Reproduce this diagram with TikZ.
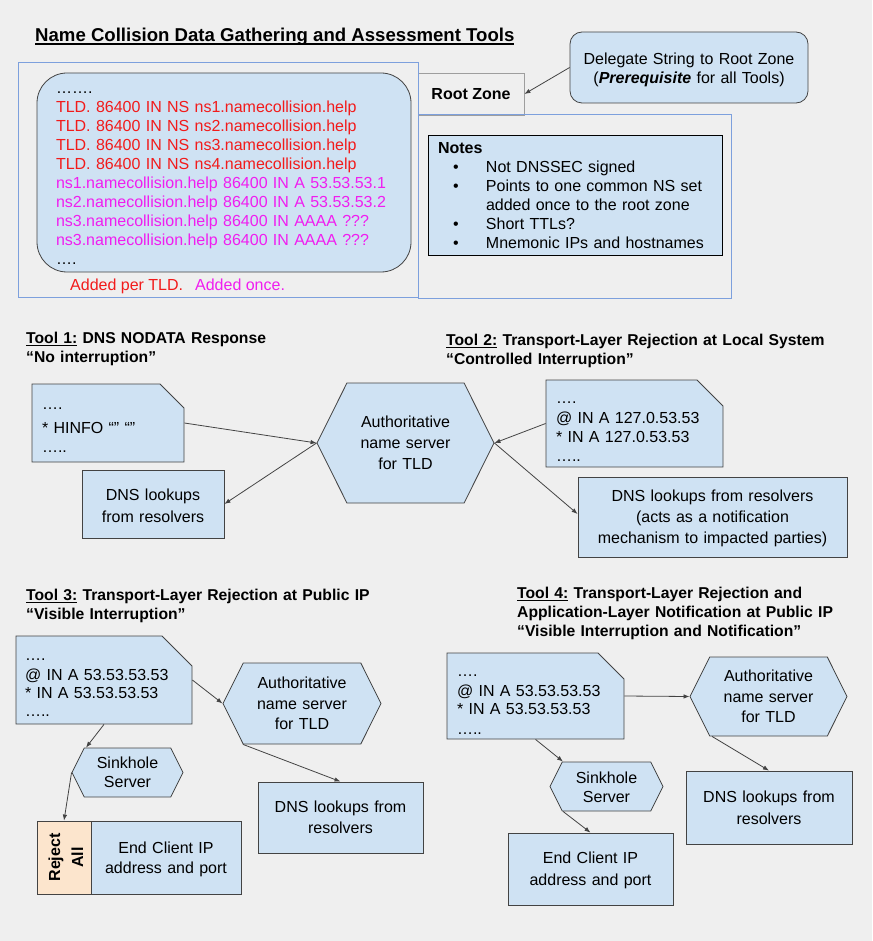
\documentclass[tikz,border=0pt]{standalone}
\usepackage{fontspec}
\setmainfont{Liberation Sans}
\usetikzlibrary{arrows.meta, shapes.misc, shapes.symbols}

\definecolor{canvas}{HTML}{EFEFEF}
\definecolor{boxblue}{HTML}{CFE2F3}
\definecolor{peach}{HTML}{FCE5CD}
\definecolor{edge}{HTML}{434343}
\definecolor{frameblue}{HTML}{7DA0DD}
\definecolor{rootgray}{HTML}{9E9E9E}
\definecolor{txtred}{HTML}{F21B1B}
\definecolor{txtmag}{HTML}{F01EF0}

\newcommand{\bodyfont}{\fontsize{16}{19}\selectfont}
\newcommand{\headfont}{\fontsize{15.7}{19}\selectfont\bfseries}
\newcommand{\titlefont}{\fontsize{18.6}{22}\selectfont\bfseries}
\newcommand{\notebullet}{\hspace*{15.2pt}\makebox[32.8pt][l]{•}}
% underline: depth, thickness, text
\newsavebox{\ulinebox}
\newcommand{\undl}[3]{\sbox{\ulinebox}{#3}\rlap{\rule[-#1]{\wd\ulinebox}{#2}}\usebox{\ulinebox}}

\begin{document}
\begin{tikzpicture}[x=1pt, y=-1pt,
    every node/.style={font=\bodyfont, inner sep=0pt},
    card/.style={draw=edge, fill=boxblue, line width=0.8pt},
    notecard/.style={card, chamfered rectangle, chamfered rectangle corners=north east, align=left},
    hexcard/.style={card, signal, signal to=west and east, signal pointer angle=127, align=center},
    boxcard/.style={card, rectangle, align=center},
    headline/.style={anchor=base west, align=left, font=\headfont},
    link/.style={draw=edge, line width=0.8pt, -{Latex[length=6pt, width=4.5pt]}}]

    % canvas
    \fill[canvas] (0,0) rectangle (872,941);
    \useasboundingbox (0,0) rectangle (872,941);

    % title
    \node[anchor=base west, font=\titlefont] (title) at (35,41.7)
        {\undl{3pt}{1.3pt}{Name Collision Data Gathering and Assessment Tools}};

    % root zone part
    \node[draw=rootgray, line width=0.8pt, minimum width=106pt, minimum height=42pt,
        font=\bodyfont\bfseries] (root) at (471,94) {Root Zone};
    \draw[frameblue, line width=0.8pt] (18,62) rectangle (418,297);
    \draw[frameblue, line width=0.8pt] (418,114) rectangle (731,298);

    \node[card, rectangle, rounded corners=30pt, align=left, minimum width=374pt,
        minimum height=199pt, text width=336pt, text height=20.5pt, text depth=178.5pt]
        (zone) at (224,172.5) {…….\\
        \textcolor{txtred}{TLD. 86400 IN NS ns1.namecollision.help}\\
        \textcolor{txtred}{TLD. 86400 IN NS ns2.namecollision.help}\\
        \textcolor{txtred}{TLD. 86400 IN NS ns3.namecollision.help}\\
        \textcolor{txtred}{TLD. 86400 IN NS ns4.namecollision.help}\\
        \textcolor{txtmag}{ns1.namecollision.help 86400 IN A 53.53.53.1}\\
        \textcolor{txtmag}{ns2.namecollision.help 86400 IN A 53.53.53.2}\\
        \textcolor{txtmag}{ns3.namecollision.help 86400 IN AAAA ???}\\
        \textcolor{txtmag}{ns3.namecollision.help 86400 IN AAAA ???}\\
        ….};
    \node[anchor=base west] (added) at (70,290.7)
        {\textcolor{txtred}{Added per TLD.}\hspace{12pt}\textcolor{txtmag}{Added once.}};

    \node[card, rectangle, draw=black, align=left, minimum width=294pt, minimum height=120pt,
        text width=274pt, text height=18.7pt, text depth=101.3pt] (notes) at (575,195)
        {\textbf{Notes}\\
        \notebullet Not DNSSEC signed\\
        \notebullet Points to one common NS set\\
        \hspace*{48pt}added once to the root zone\\
        \notebullet Short TTLs?\\
        \notebullet Mnemonic IPs and hostnames};

    \node[card, rectangle, rounded corners=12pt, align=center, minimum width=238pt,
        minimum height=71pt, text width=230pt, text height=32.7pt, text depth=38.3pt]
        (delegate) at (689,67.5)
        {Delegate String to Root Zone\\(\textbf{\textit{Prerequisite}} for all Tools)};
    \draw[link] (delegate.west) -- (root.east);

    % Tool 1
    \node[headline, text width=300pt] (t1) at (26,343.5)
        {\undl{2.2pt}{1.1pt}{Tool 1:} DNS NODATA Response\\“No interruption”};
    \node[notecard, chamfered rectangle xsep=12pt, chamfered rectangle ysep=12pt,
        minimum width=152pt, minimum height=78pt, inner xsep=-2pt, text width=132pt,
        text height=13pt, text depth=41pt] (z1) at (108,423)
        {….\\[5.7pt]{}* HINFO “” “”\\{}…..};
    \node[hexcard, minimum width=177pt, minimum height=120pt, text width=110pt,
        text height=44.7pt, text depth=75.3pt] (ns1) at (405.5,443)
        {Authoritative\\[2pt]name server\\[2pt]for TLD};
    \node[boxcard, minimum width=142pt, minimum height=68pt, text width=136pt,
        text height=30.7pt, text depth=37.3pt] (r1) at (153,504)
        {DNS lookups\\[3pt]from resolvers};
    \draw[link] (z1.east) -- (ns1.west);
    \draw[link] (ns1.west) -- (r1.east);

    % Tool 2
    \node[headline, text width=400pt] (t2) at (446,345.5)
        {\undl{2.2pt}{1.1pt}{Tool 2:} Transport-Layer Rejection at Local System\\“Controlled Interruption”};
    \node[notecard, chamfered rectangle xsep=14pt, chamfered rectangle ysep=12pt,
        minimum width=177pt, minimum height=87pt, inner xsep=-4pt, text width=157pt,
        text height=11pt, text depth=52pt] (z2) at (634.5,423.5)
        {….\\[1.7pt]@ IN A 127.0.53.53\\{}* IN A 127.0.53.53\\[-0.7pt]{}…..};
    \node[boxcard, minimum width=269pt, minimum height=80pt, text width=262pt,
        text height=24.7pt, text depth=55.3pt] (r2) at (712.5,517)
        {DNS lookups from resolvers\\[2pt](acts as a notification\\[2pt]mechanism to impacted parties)};
    \draw[link] (z2.west) -- (ns1.east);
    \draw[link] (ns1.east) -- ([yshift=3pt]r2.west);

    % Tool 3
    \node[headline, text width=360pt] (t3) at (26,600.5)
        {\undl{2.2pt}{1.1pt}{Tool 3:} Transport-Layer Rejection at Public IP\\“Visible Interruption”};
    \node[notecard, chamfered rectangle xsep=15pt, chamfered rectangle ysep=15pt,
        minimum width=176pt, minimum height=88pt, inner xsep=-6pt, text width=158pt,
        text height=9pt, text depth=49pt] (z3) at (104,680)
        {….\\[1.7pt]@ IN A 53.53.53.53\\[-1pt]{}* IN A 53.53.53.53\\[-1.7pt]{}…..};
    \node[hexcard, minimum width=158pt, minimum height=81pt, text width=100pt,
        text height=25.7pt, text depth=55.3pt] (ns3) at (302,703.5)
        {Authoritative\\[2pt]name server\\[1pt]for TLD};
    \node[hexcard, minimum width=111pt, minimum height=49pt, text width=80pt,
        text height=20.7pt, text depth=28.3pt] (sink3) at (127.5,772.5)
        {Sinkhole\\Server};
    \node[boxcard, minimum width=165pt, minimum height=71pt, text width=156pt,
        text height=30.7pt, text depth=40.3pt] (r3) at (340.5,817.5)
        {DNS lookups from\\[2pt]resolvers};
    \node[boxcard, fill=peach, rotate=90, minimum width=73pt, minimum height=54pt,
        text width=66pt, text height=23pt, text depth=31pt, font=\bodyfont\bfseries]
        (reject) at (64,857.5) {Reject\\[4pt]All};
    \node[boxcard, minimum width=150pt, minimum height=73pt, text width=144pt,
        text height=32.7pt, text depth=40.3pt] (c3) at (166,857.5)
        {End Client IP\\[1pt]address and port};
    \draw[link] (z3.south) -- ([xshift=-41.5pt]sink3.north);
    \draw[link] (z3.east) -- (ns3.west);
    \draw[link] ([xshift=-59pt]ns3.south) -- (r3.north);
    \draw[link] (sink3.west) -- (reject.east);

    % Tool 4
    \node[headline, text width=345pt] (t4) at (517,598.5)
        {\undl{2.2pt}{1.1pt}{Tool 4:} Transport-Layer Rejection and\\Application-Layer Notification at Public IP\\“Visible Interruption and Notification”};
    \node[notecard, chamfered rectangle xsep=13pt, chamfered rectangle ysep=13pt,
        minimum width=177pt, minimum height=86pt, inner xsep=-3pt, text width=157pt,
        text height=10pt, text depth=50pt] (z4) at (535.5,696)
        {….\\[1.7pt]@ IN A 53.53.53.53\\[-1pt]{}* IN A 53.53.53.53\\[0.3pt]{}…..};
    \node[hexcard, minimum width=157pt, minimum height=79pt, text width=100pt,
        text height=24.7pt, text depth=54.3pt] (ns4) at (768.5,696.5)
        {Authoritative\\[2pt]name server\\[1pt]for TLD};
    \node[hexcard, minimum width=113pt, minimum height=49pt, text width=80pt,
        text height=21.7pt, text depth=27.3pt] (sink4) at (606.5,786.5)
        {Sinkhole\\Server};
    \node[boxcard, minimum width=166pt, minimum height=73pt, text width=156pt,
        text height=31.7pt, text depth=41.3pt] (r4) at (769,807.5)
        {DNS lookups from\\[3pt]resolvers};
    \node[boxcard, minimum width=165pt, minimum height=72pt, text width=156pt,
        text height=30.7pt, text depth=41.3pt] (c4) at (590.5,869)
        {End Client IP\\[3pt]address and port};
    \draw[link] (z4.east) -- (ns4.west);
    \draw[link] (z4.south) -- ([xshift=-43.5pt]sink4.north);
    \draw[link] ([xshift=-56.5pt]ns4.south) -- (r4.north);
    \draw[link] ([xshift=-43.5pt]sink4.south) -- (c4.north);
\end{tikzpicture}
\end{document}
